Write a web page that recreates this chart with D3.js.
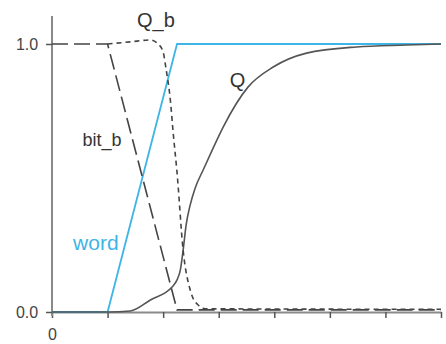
<!DOCTYPE html>
<html>
<head>
<meta charset="utf-8">
<script src="https://cdn.jsdelivr.net/npm/d3@7"></script>
<style>
  html, body { margin: 0; padding: 0; background: #fff; }
  svg { display: block; }
  text { font-family: "Liberation Sans", Arial, sans-serif; }
</style>
</head>
<body>
<svg id="chart" width="446" height="344"></svg>
<script>
// Signal waveforms over time (arbitrary units, 0..7)
const wordTime  = [0, 1, 2.25, 7];
const wordValue = [0, 0, 1, 1];

const bitbTime  = [0, 1, 2.25, 7];
const bitbValue = [1, 1, 0.008, 0.008];

const qbTime  = [1, 1.41, 1.77, 1.91, 2.0, 2.05, 2.13, 2.18, 2.25, 2.36, 2.49, 2.63, 2.76, 7];
const qbValue = [1, 1.008, 1.015, 1.0, 0.97, 0.91, 0.79, 0.67, 0.52, 0.23, 0.08, 0.026, 0.012, 0.01];

const qTime  = [0, 1, 1.41, 1.77, 2.16, 2.25, 2.31, 2.36, 2.414, 2.486, 2.577, 2.72, 2.883, 3.08, 3.53, 3.98, 4.58, 5.48, 6.38, 7];
const qValue = [0, 0, 0.004, 0.045, 0.093, 0.12, 0.157, 0.231, 0.325, 0.399, 0.463, 0.53, 0.604, 0.69, 0.84, 0.914, 0.966, 0.989, 0.996, 1.0];

const xTicks = [0, 1, 2, 3, 4, 5, 6, 7];
const xTickLabels = ["0", "", "", "", "", "", "", ""];
const yTicks = [0, 1];
const yTickLabels = ["0.0", "1.0"];

const svg = d3.select("#chart");
const x = d3.scaleLinear().domain([0, 7]).range([52, 441]);
const y = d3.scaleLinear().domain([0, 1]).range([312, 44]);

const axisColor = "#8a8a8a";

// x axis
const xAxis = svg.append("g")
  .attr("transform", `translate(0,${y(0)})`)
  .call(d3.axisBottom(x).tickValues(xTicks).tickSize(6).tickSizeOuter(0)
    .tickFormat((d, i) => xTickLabels[i]));
xAxis.select(".domain").attr("stroke", axisColor).attr("stroke-width", 2);
xAxis.selectAll(".tick line").attr("stroke", "#555").attr("stroke-width", 1.5);
xAxis.selectAll(".tick text").attr("fill", "#444").attr("font-size", 16).attr("dy", "1.2em");

// y axis (extends a little above 1.0 and below 0.0)
svg.append("line")
  .attr("x1", x(0)).attr("x2", x(0))
  .attr("y1", 16).attr("y2", y(0) + 4)
  .attr("stroke", axisColor).attr("stroke-width", 2);
const yAxis = svg.append("g")
  .attr("transform", `translate(${x(0)},0)`)
  .call(d3.axisLeft(y).tickValues(yTicks).tickSize(6).tickSizeOuter(0)
    .tickFormat((d, i) => yTickLabels[i]));
yAxis.select(".domain").remove();
yAxis.selectAll(".tick line").attr("stroke", "#555").attr("stroke-width", 1.5);
yAxis.selectAll(".tick text").attr("fill", "#444").attr("font-size", 16).attr("dx", "-0.3em");

const zip = (ts, vs) => ts.map((t, i) => [t, vs[i]]);
const linear = d3.line().x(d => x(d[0])).y(d => y(d[1]));
const smooth = d3.line().x(d => x(d[0])).y(d => y(d[1])).curve(d3.curveMonotoneX);

// word (blue)
svg.append("path").datum(zip(wordTime, wordValue))
  .attr("d", linear).attr("fill", "none")
  .attr("stroke", "#3fb4e6").attr("stroke-width", 1.8);

// Q (solid gray)
svg.append("path").datum(zip(qTime, qValue))
  .attr("d", smooth).attr("fill", "none")
  .attr("stroke", "#555").attr("stroke-width", 1.6);

// bit_b (long dashes)
svg.append("path").datum(zip(bitbTime, bitbValue))
  .attr("d", linear).attr("fill", "none")
  .attr("stroke", "#444").attr("stroke-width", 1.6)
  .attr("stroke-dasharray", "16,6");

// Q_b (short dashes)
svg.append("path").datum(zip(qbTime, qbValue))
  .attr("d", smooth).attr("fill", "none")
  .attr("stroke", "#444").attr("stroke-width", 1.6)
  .attr("stroke-dasharray", "5,4");

// signal names
const labels = [
  { text: "Q_b",   t: 1.53, v: 1.065, color: "#333",    size: 20 },
  { text: "bit_b", t: 0.55, v: 0.62,  color: "#333",    size: 18 },
  { text: "Q",     t: 3.2,  v: 0.84,  color: "#333",    size: 20 },
  { text: "word",  t: 0.38, v: 0.23,  color: "#3fb4e6", size: 21 }
];
svg.selectAll("text.sig").data(labels).join("text")
  .attr("class", "sig")
  .attr("x", d => x(d.t)).attr("y", d => y(d.v))
  .attr("fill", d => d.color)
  .attr("font-size", d => d.size)
  .text(d => d.text);
</script>
</body>
</html>
